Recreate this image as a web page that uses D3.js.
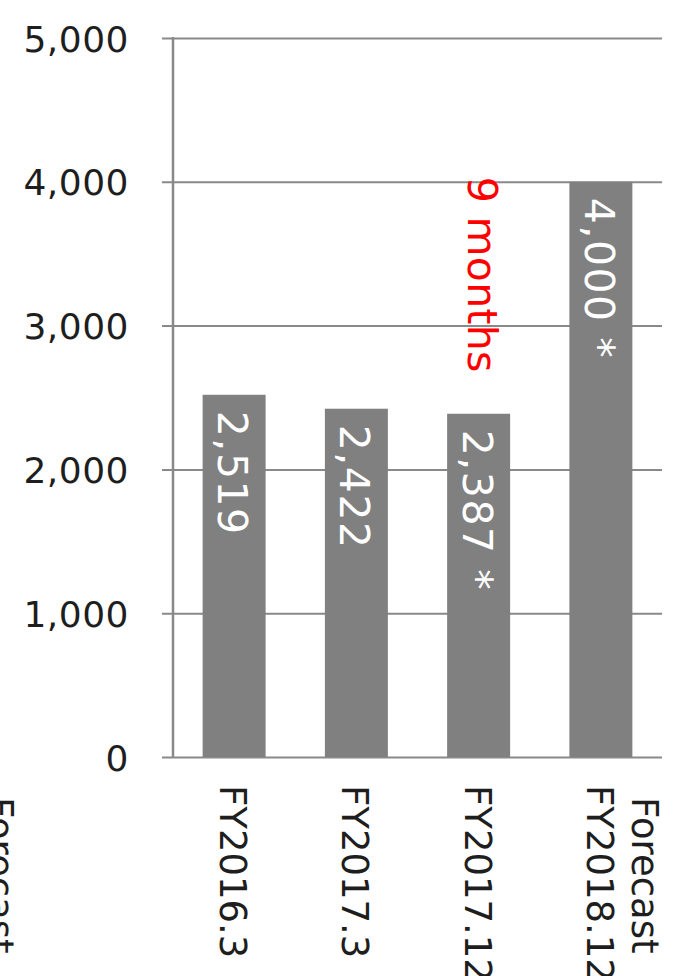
<!DOCTYPE html>
<html>
<head>
<meta charset="utf-8">
<script src="https://cdn.jsdelivr.net/npm/d3@7"></script>
<style>
  html, body { margin: 0; padding: 0; background: #fff; }
  svg { display: block; }
  text { font-family: "DejaVu Sans", Verdana, sans-serif; }
</style>
</head>
<body>
<svg id="chart" width="673" height="976"></svg>
<script>
// Annual figures per fiscal period
const categories = ["FY2016.3", "FY2017.3", "FY2017.12", "FY2018.12"];
const categoryNotes = ["", "", "", "Forecast"];
const values = [2519, 2422, 2387, 4000];
const valueMarks = ["", "", " *", " *"];
const yTicks = [0, 1000, 2000, 3000, 4000, 5000];
const periodNote = "9 months";
const periodNoteIndex = 2;
const sideNote = "Forecast";

const svg = d3.select("#chart");
const plotLeft = 173, plotRight = 662, plotTop = 38, plotBottom = 757;

const x = d3.scaleBand()
  .domain(categories)
  .range([plotLeft, plotRight])
  .paddingInner(0.4847)
  .paddingOuter(0.2423);

const y = d3.scaleLinear()
  .domain([0, 5000])
  .range([plotBottom, plotTop]);

const fmt = d3.format(",");
const grey = "#898989";
const ink = "#1e1e1e";

// Horizontal gridlines with tick stubs on the left of the axis
const yAxis = d3.axisLeft(y)
  .tickValues(yTicks)
  .tickFormat(fmt)
  .tickSize(-(plotRight - plotLeft + 11))
  .tickPadding(0);

const gy = svg.append("g")
  .attr("transform", `translate(${plotLeft - 11},0)`)
  .call(yAxis);
gy.select(".domain").remove();
gy.selectAll(".tick line")
  .attr("stroke", grey)
  .attr("stroke-width", 2);
gy.selectAll(".tick text")
  .attr("x", -33)
  .attr("dy", 13)
  .attr("fill", ink)
  .style("font-size", "36px")
  .style("letter-spacing", "0.5px");

// Vertical axis line
svg.append("line")
  .attr("x1", plotLeft).attr("x2", plotLeft)
  .attr("y1", y(5000) - 1).attr("y2", y(0) + 1)
  .attr("stroke", grey)
  .attr("stroke-width", 2.5);

// Bars
svg.append("g").selectAll("rect")
  .data(values)
  .join("rect")
  .attr("x", (d, i) => x(categories[i]))
  .attr("y", d => y(d))
  .attr("width", x.bandwidth())
  .attr("height", d => y(0) - y(d))
  .attr("fill", "#808080");

// Value labels, rotated inside each bar
svg.append("g").selectAll("text")
  .data(values)
  .join("text")
  .attr("transform", (d, i) => {
    const cx = x(categories[i]) + x.bandwidth() / 2;
    return `translate(${cx - 16},${y(d) + 16}) rotate(90)`;
  })
  .attr("fill", "#ffffff")
  .style("font-size", "41px")
  .style("letter-spacing", "1.5px")
  .style("white-space", "pre")
  .text((d, i) => fmt(d) + valueMarks[i]);

// Period note above the third bar
{
  const cx = x(categories[periodNoteIndex]) + x.bandwidth() / 2;
  svg.append("text")
    .attr("transform", `translate(${cx - 11},${y(4000) - 5}) rotate(90)`)
    .attr("fill", "#ff0000")
    .style("font-size", "41px")
    .style("letter-spacing", "0.3px")
    .text(periodNote);
}

// Category labels, rotated below the axis
const cat = svg.append("g").selectAll("g")
  .data(categories)
  .join("g")
  .attr("transform", (d, i) => {
    const cx = x(d) + x.bandwidth() / 2;
    return `translate(${cx - 14},785) rotate(90)`;
  });

cat.append("text")
  .attr("fill", ink)
  .style("font-size", "37px")
  .text(d => d);

cat.filter((d, i) => categoryNotes[i] !== "")
  .append("text")
  .attr("x", 12)
  .attr("y", -45)
  .attr("fill", ink)
  .style("font-size", "37px")
  .text((d) => categoryNotes[categories.indexOf(d)]);

// Note at the left margin
svg.append("text")
  .attr("transform", "translate(-13,797) rotate(90)")
  .attr("fill", ink)
  .style("font-size", "37px")
  .text(sideNote);
</script>
</body>
</html>
